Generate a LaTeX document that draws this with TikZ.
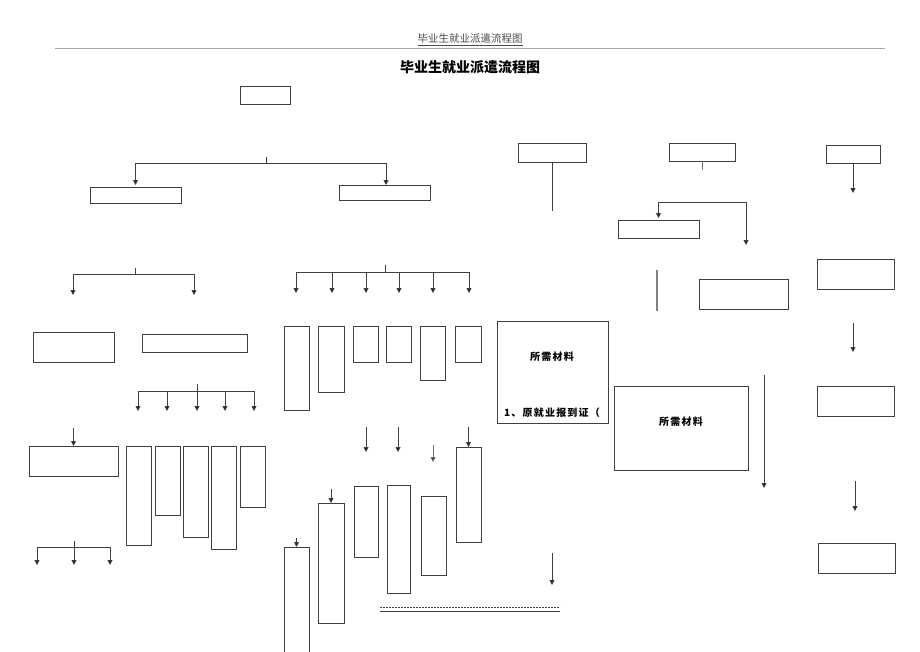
\documentclass[tikz,border=0pt]{standalone}
\usepackage{fontspec}
\newfontfamily\cjk{Noto Sans CJK SC}
\usetikzlibrary{arrows.meta}
\newcommand\mkbox[5]{\node[box,minimum width=#4pt,minimum height=#5pt] (#1) at (#2,#3) {};}
\begin{document}
\begin{tikzpicture}[x=1pt,y=-1pt,
  ln/.style={draw=black!75,line width=0.9pt},
  box/.style={ln,rectangle,anchor=north west,inner sep=0pt,outer sep=0pt},
  tip/.style={},
  arr/.style={ln,-{Triangle[length=5pt,width=5pt,fill=black!90]}},
  arrboth/.style={ln,{Triangle[length=5pt,width=5pt,fill=black!90]}-{Triangle[length=5pt,width=5pt,fill=black!90]}},
  lbl/.style={font=\cjk\bfseries\fontsize{10}{12}\selectfont\addfontfeature{LetterSpace=12},inner sep=0pt}]
\useasboundingbox (0,0) rectangle (920,651);
\fill[white] (0,0) rectangle (920,651);

% header and title
\node[inner sep=0pt,text=black!70,font=\cjk\fontsize{10.5}{12}\selectfont] (hdr) at (470,40) {\underline{毕业生就业派遣流程图}};
\coordinate (rl) at (55,48); \coordinate (rr) at (885,48);
\draw[draw=black!35,line width=0.8pt] (rl) -- (rr);
\node[inner sep=0pt,font=\cjk\bfseries\fontsize{14}{16}\selectfont] (title) at (470,67) {毕业生就业派遣流程图};

% boxes
\mkbox{A}{240}{86}{50}{18}
\mkbox{B1}{90}{187}{91}{16}
\mkbox{B2}{339}{185}{91}{15}
\mkbox{C1}{33}{332}{81}{30}
\mkbox{C2}{142}{334}{105}{18}
\mkbox{D}{29}{446}{89}{30}
\mkbox{T1}{126}{446}{25}{99}
\mkbox{T2}{155}{446}{25}{69}
\mkbox{T3}{183}{446}{25}{91}
\mkbox{T4}{211}{446}{25}{103}
\mkbox{T5}{240}{446}{25}{61}
\mkbox{M1}{284}{326}{25}{84}
\mkbox{M2}{318}{326}{26}{66}
\mkbox{M3}{353}{326}{25}{36}
\mkbox{M4}{386}{326}{25}{36}
\mkbox{M5}{420}{326}{25}{54}
\mkbox{M6}{455}{326}{26}{36}
\mkbox{N1}{456}{447}{25}{95}
\mkbox{N2}{354}{486}{24}{71}
\mkbox{N3}{387}{485}{23}{108}
\mkbox{N4}{421}{496}{25}{79}
\mkbox{N5}{318}{503}{26}{120}
\mkbox{N6}{284}{547}{25}{115}
\mkbox{E1}{518}{143}{68}{19}
\mkbox{E2}{669}{143}{66}{18}
\mkbox{E3}{826}{145}{54}{18}
\mkbox{F}{618}{220}{81}{18}
\mkbox{G}{699}{279}{89}{30}
\mkbox{H1}{817}{259}{77}{30}
\mkbox{H2}{817}{386}{77}{30}
\mkbox{H3}{818}{543}{77}{30}
\mkbox{K1}{497}{321}{111}{102}
\mkbox{K2}{614}{386}{134}{84}

\node[lbl] (k1a) at (552,357) {所需材料};
\node[lbl] (k1b) at (552,413) {1、原就业报到证（};
\node[lbl] (k2a) at (681,422) {所需材料};

% top tree
\coordinate (t1) at (266,157); \coordinate (j1) at (266,163);
\draw[ln] (t1) -- (j1);
\draw[arr] (j1) -| ([yshift=2pt]B1.north);
\draw[arr] (j1) -| ([xshift=1.5pt]B2.north);

% left branch
\coordinate (t2) at (135,268); \coordinate (j2) at (135,274);
\coordinate (a21) at (73,295); \coordinate (a22) at (194,295);
\draw[ln] (t2) -- (j2);
\draw[arr] (j2) -| (a21);
\draw[arr] (j2) -| (a22);

% five arrows
\coordinate (t3) at (197,384); \coordinate (j3) at (197,391);
\draw[ln] (t3) -- (j3);
\foreach \x [count=\i] in {138,167,197,225,254}{
  \coordinate (a3\i) at (\x,411);
  \draw[arr] (j3) -| (a3\i);
}

% arrow into D
\coordinate (dd) at (73.5,428);
\draw[arr] (dd) -- (D.north);

% three arrows
\coordinate (t4) at (74,541); \coordinate (j4) at (74,547);
\draw[ln] (t4) -- (j4);
\foreach \x [count=\i] in {37,74,110}{
  \coordinate (a4\i) at (\x,565);
  \draw[arr] (j4) -| (a4\i);
}

% middle six arrows
\coordinate (t5) at (385,265); \coordinate (j5) at (385,272);
\draw[ln] (t5) -- (j5);
\foreach \x [count=\i] in {296,332,366,399,433,469}{
  \coordinate (a5\i) at (\x,293);
  \draw[arr] (j5) -| (a5\i);
}

% middle lower arrows
\coordinate (s61) at (366,427); \coordinate (e61) at (366,452);
\coordinate (s62) at (398,427); \coordinate (e62) at (398,452);
\coordinate (s63) at (433,445); \coordinate (e63) at (433,462);
\coordinate (s64) at (468.5,427);
\coordinate (s65) at (331,489);
\coordinate (s66) at (296.5,538);
\draw[arr] (s61) -- (e61);
\draw[arr] (s62) -- (e62);
\draw[arr,draw=black!55] (s63) -- (e63);
\draw[arr] (s64) -- (N1.north);
\draw[arr] (s65) -- (N5.north);
\draw[arr] (s66) -- (N6.north);

% dashed and solid rules
\coordinate (dl) at (380,607); \coordinate (dr) at (560,607);
\coordinate (sl) at (380,611); \coordinate (sr) at (560,611);
\draw[ln,dash pattern=on 2pt off 1pt,line width=0.7pt] (dl) -- (dr);
\draw[ln,line width=0.8pt] (sl) -- (sr);

% right side
\coordinate (e1b) at (552,211);
\draw[ln] (E1.south) -- (e1b);
\coordinate (e2b) at (702,170);
\draw[ln,draw=black!55] (E2.south) -- (e2b);
\coordinate (e3b) at (853,193);
\draw[arr] (E3.south) -- (e3b);
\coordinate (fj) at (746,202); \coordinate (fe) at (746,245);
\draw[arrboth] ([yshift=2pt]F.north) |- (fj) -- (fe);
\coordinate (v1) at (657,270); \coordinate (v2) at (657,311);
\draw[draw=black!50,line width=1.4pt] (v1) -- (v2);
\coordinate (h1s) at (853,323); \coordinate (h1e) at (853,352);
\draw[arr] (h1s) -- (h1e);
\coordinate (h2s) at (855,481); \coordinate (h2e) at (855,511);
\draw[arr] (h2s) -- (h2e);
\coordinate (ks) at (764,375); \coordinate (ke) at (764,488);
\draw[arr] (ks) -- (ke);
\coordinate (ls) at (552,553); \coordinate (le) at (552,585);
\draw[arr] (ls) -- (le);
\end{tikzpicture}
\end{document}
